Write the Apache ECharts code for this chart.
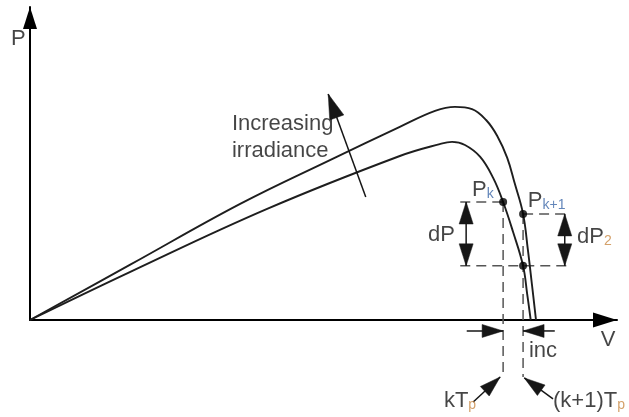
<!DOCTYPE html>
<html>
<head>
<meta charset="utf-8">
<script src="https://cdn.jsdelivr.net/npm/echarts@6/dist/echarts.min.js"></script>
<style>
  html, body { margin: 0; padding: 0; background: #fff; }
  #chart { width: 629px; height: 417px; }
</style>
</head>
<body>
<div id="chart"></div>
<script>
// P-V characteristic at two irradiance levels
const vHigh = [0, 17.0, 35.8, 51.1, 63.0, 69.0, 72.4, 75.3, 77.7, 79.6, 81.3, 82.6, 84.0, 84.8, 85.5, 86.2];
const pHigh = [0, 17.6, 37.1, 51.1, 61.7, 66.8, 68.1, 67.4, 63.9, 58.8, 51.8, 43.5, 33.9, 22.7, 11.5, 0];
const vLow  = [0, 17.0, 40.4, 63.0, 69.8, 71.9, 74.1, 76.7, 78.9, 80.6, 82.3, 84.0, 84.7, 85.3];
const pLow  = [0, 15.3, 35.5, 52.4, 56.2, 56.9, 55.9, 52.1, 45.4, 37.7, 28.1, 17.3, 8.3, 0];

// Sampling instants k and k+1
const vK = 80.6, pK = 37.7;
const vK1 = 84.0, pK1 = 33.9, pK1Low = 17.3;

// Extents of the guide lines
const guideLeft = 73.3, guideRight = 91.7, guideBottom = -18.2;
const incLevel = -3.5;

// Dashed guides: [x1, y1, x2, y2]
const dashedGuides = [
  [guideLeft, pK, vK, pK],
  [guideLeft, pK1Low, guideRight, pK1Low],
  [vK1, pK1, guideRight, pK1],
  [vK, pK, vK, guideBottom],
  [vK1, pK1, vK1, guideBottom]
];
// Double-headed arrows (dP, dP2)
const doubleArrows = [
  [74.3, pK, 74.3, pK1Low],
  [91.1, pK1, 91.1, pK1Low]
];
// Irradiance direction arrow
const irradianceArrow = [[57.2, 39.3, 50.8, 72.2]];
// Single-headed arrows, head at the second point
const singleArrows = [
  [74.4, incLevel, vK, incLevel],
  [89.4, incLevel, vK1, incLevel],
  [75.5, -26.2, 80.1, -18.2],
  [89.1, -25.2, 84.2, -18.5]
];
// Operating points
const markerPoints = [[vK, pK], [vK1, pK1], [vK1, pK1Low]];

// Text annotations: [x, y, text, align, verticalAlign]
const annotations = [
  [-2.0, 89.8, '{m|P}', 'center', 'middle'],
  [98.5, -6.4, '{m|V}', 'center', 'middle'],
  [34.4, 66.8, '{t|Increasing}\n{t|irradiance}', 'left', 'top'],
  [72.4, 27.2, '{m|dP}', 'right', 'middle'],
  [93.2, 26.5, '{m|dP}{o|2}', 'left', 'middle'],
  [75.3, 41.5, '{m|P}{b|k}', 'left', 'middle'],
  [84.8, 38.0, '{m|P}{b|k+1}', 'left', 'middle'],
  [85.0, -9.9, '{m|inc}', 'left', 'middle'],
  [76.0, -25.9, '{m|kT}{o|p}', 'right', 'middle'],
  [89.1, -25.9, '{m|(k+1)T}{o|p}', 'left', 'middle']
];

const FONT = 'Liberation Sans, Arial, sans-serif';
const INK = '#161616';

function zip(xs, ys) { return xs.map((x, i) => [x, ys[i]]); }

function head(tip, from, len, wid) {
  const dx = tip[0] - from[0], dy = tip[1] - from[1];
  const d = Math.hypot(dx, dy) || 1;
  const ux = dx / d, uy = dy / d;
  const bx = tip[0] - ux * len, by = tip[1] - uy * len;
  return {
    type: 'polygon',
    shape: { points: [[tip[0], tip[1]], [bx - uy * wid / 2, by + ux * wid / 2], [bx + uy * wid / 2, by - ux * wid / 2]] },
    style: { fill: INK, stroke: INK, lineWidth: 0.5 }
  };
}

function segmentRenderer(opts) {
  return function (params, api) {
    const a = api.coord([api.value(0), api.value(1)]);
    const b = api.coord([api.value(2), api.value(3)]);
    const children = [{
      type: 'line',
      shape: { x1: a[0], y1: a[1], x2: b[0], y2: b[1] },
      style: { stroke: opts.color, lineWidth: opts.width, lineDash: opts.dash || null }
    }];
    if (opts.endHead) children.push(head(b, a, opts.len, opts.wid));
    if (opts.startHead) children.push(head(a, b, opts.len, opts.wid));
    return { type: 'group', children: children };
  };
}

const segDims = { dimensions: ['x1', 'y1', 'x2', 'y2'], encode: { x: [0, 2], y: [1, 3] } };

const chart = echarts.init(document.getElementById('chart'), null, { renderer: 'canvas' });
chart.setOption({
  animation: false,
  backgroundColor: '#ffffff',
  grid: { left: 30, right: 12, top: 7, bottom: 97 },
  xAxis: {
    type: 'value', min: 0, max: 100,
    axisLabel: { show: false }, axisTick: { show: false }, splitLine: { show: false },
    axisLine: { lineStyle: { color: '#000', width: 2 }, symbol: ['none', 'triangle'], symbolSize: [15, 24], symbolOffset: [0, -12] }
  },
  yAxis: {
    type: 'value', min: 0, max: 100,
    axisLabel: { show: false }, axisTick: { show: false }, splitLine: { show: false },
    axisLine: { lineStyle: { color: '#000', width: 2 }, symbol: ['none', 'triangle'], symbolSize: [14, 22], symbolOffset: [0, -11] }
  },
  series: [
    {
      name: 'high irradiance', type: 'line', data: zip(vHigh, pHigh), smooth: 0.4,
      showSymbol: false, lineStyle: { color: '#1e1e1e', width: 1.9 }, z: 3
    },
    {
      name: 'low irradiance', type: 'line', data: zip(vLow, pLow), smooth: 0.4,
      showSymbol: false, lineStyle: { color: '#1e1e1e', width: 1.9 }, z: 3
    },
    Object.assign({
      type: 'custom', clip: false, z: 2, data: dashedGuides,
      renderItem: segmentRenderer({ color: '#555', width: 1.5, dash: [10, 6] })
    }, segDims),
    Object.assign({
      type: 'custom', clip: false, z: 4, data: doubleArrows,
      renderItem: segmentRenderer({ color: INK, width: 1.5, startHead: true, endHead: true, len: 22, wid: 14 })
    }, segDims),
    Object.assign({
      type: 'custom', clip: false, z: 4, data: irradianceArrow,
      renderItem: segmentRenderer({ color: INK, width: 1.5, endHead: true, len: 25, wid: 15 })
    }, segDims),
    Object.assign({
      type: 'custom', clip: false, z: 4, data: singleArrows,
      renderItem: segmentRenderer({ color: INK, width: 1.5, endHead: true, len: 21, wid: 13 })
    }, segDims),
    {
      type: 'scatter', clip: false, z: 5, data: markerPoints,
      symbol: 'circle', symbolSize: 8, itemStyle: { color: '#000' }
    },
    {
      type: 'scatter', clip: false, z: 6, symbolSize: 0,
      data: annotations.map(a => ({
        value: [a[0], a[1]],
        label: { formatter: a[2], align: a[3], verticalAlign: a[4] }
      })),
      label: {
        show: true, position: 'inside', color: INK, fontFamily: FONT, fontSize: 22,
        rich: {
          m: { fontSize: 22, fontFamily: FONT, color: INK },
          t: { fontSize: 22, fontFamily: FONT, color: INK, lineHeight: 27 },
          b: { fontSize: 14, fontFamily: FONT, color: '#3b67a8', padding: [8, 0, 0, 0] },
          o: { fontSize: 14, fontFamily: FONT, color: '#c98a45', padding: [8, 0, 0, 0] }
        }
      }
    }
  ]
});
</script>
</body>
</html>
